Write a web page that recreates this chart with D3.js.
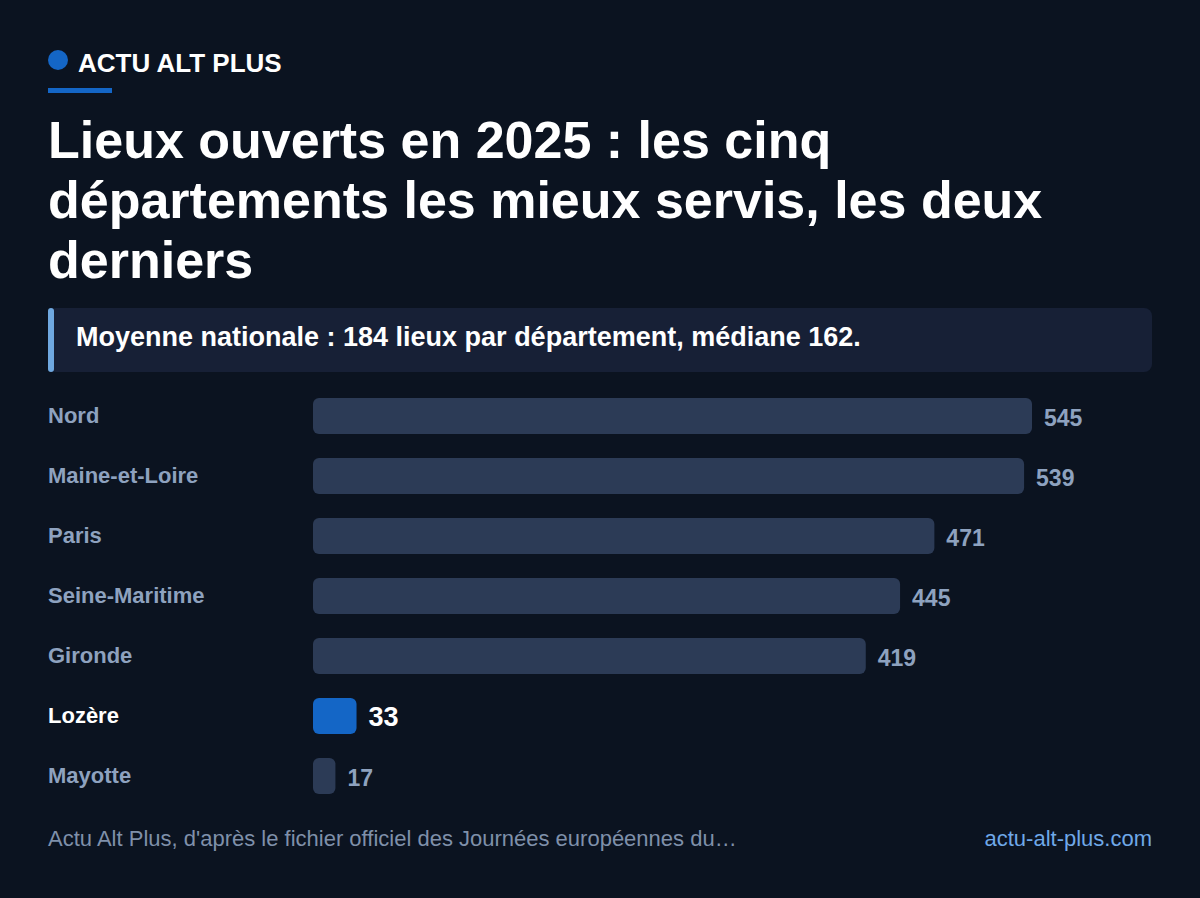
<!DOCTYPE html>
<html lang="fr">
<head>
<meta charset="UTF-8">
<script src="https://cdn.jsdelivr.net/npm/d3@7"></script>
<style>
  body { margin: 0; background: #0b1320; }
  text { font-family: "Liberation Sans", Arial, sans-serif; }
</style>
</head>
<body>
<svg id="chart" width="1200" height="898"></svg>
<script>
var departements = ['Nord', 'Maine-et-Loire', 'Paris', 'Seine-Maritime', 'Gironde', 'Lozère', 'Mayotte'];
var lieux = [545, 539, 471, 445, 419, 33, 17];
var highlight = 'Lozère';

var svg = d3.select('#chart');
svg.append('rect').attr('width', 1200).attr('height', 898).attr('fill', '#0b1320');

// header
svg.append('circle').attr('cx', 58).attr('cy', 60).attr('r', 10).attr('fill', '#1466c6');
svg.append('text').attr('x', 78).attr('y', 72).attr('fill', '#ffffff')
    .attr('font-size', 26).attr('font-weight', 'bold').text('ACTU ALT PLUS');
svg.append('rect').attr('x', 48).attr('y', 88).attr('width', 64).attr('height', 5).attr('fill', '#1466c6');

var titleLines = ['Lieux ouverts en 2025 : les cinq', 'départements les mieux servis, les deux', 'derniers'];
svg.selectAll('.title').data(titleLines).enter().append('text')
    .attr('x', 48).attr('y', function (d, i) { return 158 + i * 60; })
    .attr('fill', '#ffffff').attr('font-size', 52).attr('font-weight', 'bold')
    .text(function (d) { return d; });

// note box
svg.append('rect').attr('x', 48).attr('y', 308).attr('width', 1104).attr('height', 64)
    .attr('rx', 8).attr('fill', '#172036');
svg.append('rect').attr('x', 48).attr('y', 308).attr('width', 6).attr('height', 64)
    .attr('rx', 3).attr('fill', '#6fa8e0');
svg.append('text').attr('x', 76).attr('y', 346).attr('fill', '#ffffff')
    .attr('font-size', 27).attr('font-weight', 'bold')
    .text('Moyenne nationale : 184 lieux par département, médiane 162.');

// bars
var x = d3.scaleLinear().domain([0, 545]).range([0, 719]);
var y = d3.scaleBand().domain(departements).range([386, 806]).paddingInner(0.4).paddingOuter(0.2);

var rows = svg.selectAll('.row').data(departements).enter().append('g');
rows.append('rect')
    .attr('x', 313).attr('y', function (d) { return y(d); })
    .attr('width', function (d, i) { return x(lieux[i]); })
    .attr('height', y.bandwidth()).attr('rx', 6)
    .attr('fill', function (d) { return d === highlight ? '#1466c6' : '#2c3b56'; });
rows.append('text')
    .attr('x', 48).attr('y', function (d) { return y(d) + 25; })
    .attr('font-size', 22).attr('font-weight', 'bold')
    .attr('fill', function (d) { return d === highlight ? '#ffffff' : '#8ea2bf'; })
    .text(function (d) { return d; });
rows.append('text')
    .attr('x', function (d, i) { return 313 + x(lieux[i]) + 12; })
    .attr('y', function (d) { return y(d) + 28; })
    .attr('font-weight', 'bold')
    .attr('font-size', function (d) { return d === highlight ? 27 : 23; })
    .attr('fill', function (d) { return d === highlight ? '#ffffff' : '#8ea2bf'; })
    .text(function (d, i) { return lieux[i]; });

// footer
svg.append('text').attr('x', 48).attr('y', 846).attr('fill', '#7f90aa').attr('font-size', 22)
    .text("Actu Alt Plus, d'après le fichier officiel des Journées européennes du…");
svg.append('text').attr('x', 1152).attr('y', 846).attr('text-anchor', 'end')
    .attr('fill', '#6fa8e8').attr('font-size', 22).text('actu-alt-plus.com');
</script>
</body>
</html>
